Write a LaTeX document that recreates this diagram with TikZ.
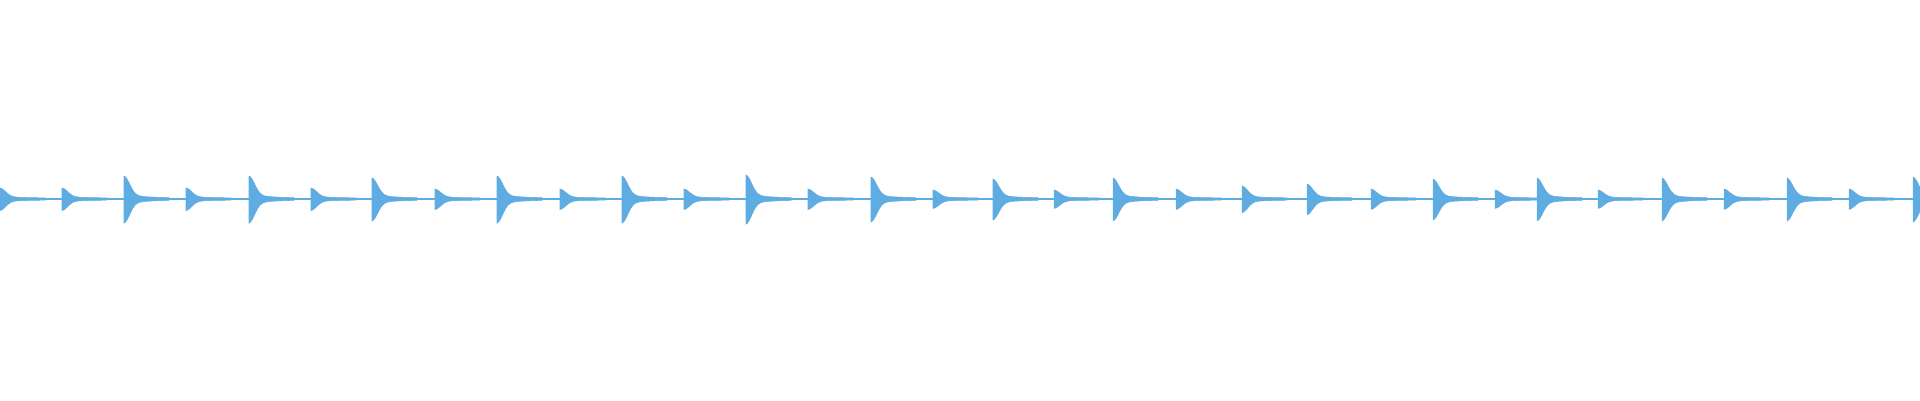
\documentclass[tikz,border=0pt]{standalone}
\definecolor{wave}{RGB}{94,172,226}
\tikzset{
  pulse/.style={fill=wave, draw=wave, line width=0.3pt},
  baseline/.style={draw=wave, line width=1pt}
}
\newcommand{\pulseat}[2]{% x position, amplitude
  \fill[pulse] (#1,201)
    -- plot[domain=0:45, samples=30] ({#1+\x},{201+1+#2*(0.8*exp(-(\x/8)^2)+0.2*exp(-\x/18))})
    -- plot[domain=45:0, samples=30] ({#1+\x},{201-1-1.05*#2*(0.8*exp(-(\x/8)^2)+0.2*exp(-\x/18))})
    -- cycle;}
\begin{document}
\begin{tikzpicture}[x=0.02cm, y=0.02cm]
  \useasboundingbox (0,0) rectangle (1920,400);
  \coordinate (left) at (0,201);
  \coordinate (right) at (1920,201);
  \draw[baseline] (left) -- (right);
  % beats
  \foreach \px/\amp in {0/10, 62/10, 124/22, 186/10, 249/22, 311/10, 372/20,
    435/9, 497/22, 560/9, 622/22, 684/9, 746/23, 808/9, 871/21, 933/8,
    993/19, 1054/8, 1113/20, 1176/9, 1242/12, 1307/14, 1371/9, 1433/19,
    1495/8, 1537/20, 1598/8, 1662/20, 1724/9, 1787/20, 1849/9, 1913/21}
    \pulseat{\px}{\amp};
\end{tikzpicture}
\end{document}
